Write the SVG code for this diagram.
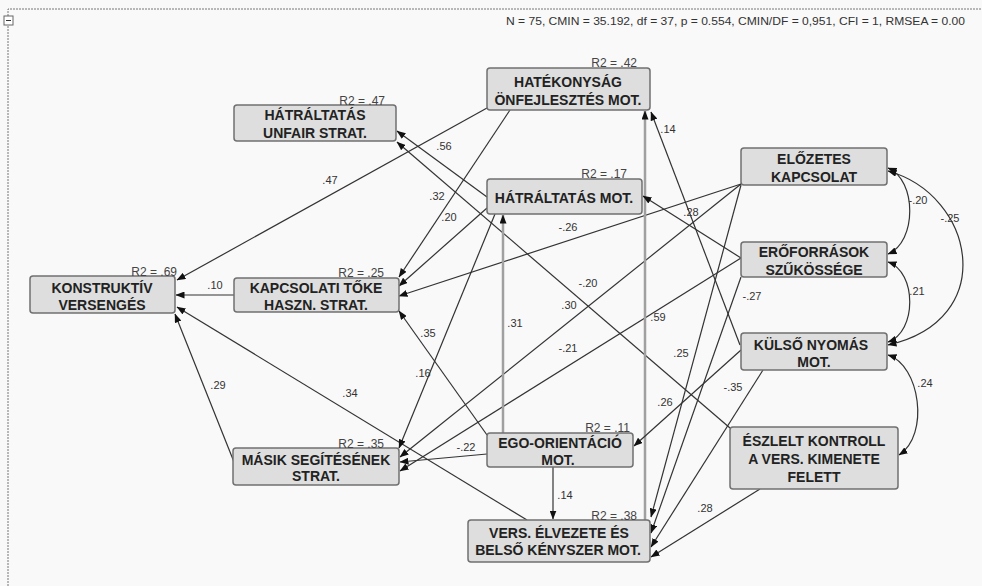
<svg xmlns="http://www.w3.org/2000/svg" width="982" height="586" viewBox="0 0 982 586">
<defs>
<marker id="ah" markerUnits="userSpaceOnUse" markerWidth="9" markerHeight="7" refX="8.5" refY="3.5" orient="auto-start-reverse">
<path d="M0,0 L9,3.5 L0,7 z" fill="#111"/>
</marker>
<style>
.bg{fill:#f9f9f9}
.frame{fill:none;stroke:#777;stroke-width:1;stroke-dasharray:2 1}
.node rect{fill:#dedede;stroke:#707070;stroke-width:1.5}
.node text{font-family:"Liberation Sans",Arial,sans-serif;font-weight:bold;font-size:14px;fill:#222;text-anchor:middle}
.r2{font-family:"Liberation Sans",Arial,sans-serif;font-size:12px;fill:#444;text-anchor:end}
.lab{font-family:"Liberation Sans",Arial,sans-serif;font-size:11px;fill:#333;text-anchor:middle}
.hdr{font-family:"Liberation Sans",Arial,sans-serif;font-size:10.5px;fill:#333}
.c line,.c path{stroke:#333;stroke-width:1.2;fill:none;marker-end:url(#ah)}
.c .g{stroke:#a0a0a0;stroke-width:2.5}
.c .cov{marker-start:url(#ah)}
</style>
</defs>
<rect class="bg" x="0" y="0" width="982" height="586"/>
<path class="frame" d="M8,586 L8,9 L982,9"/>
<rect x="4" y="16" width="9" height="9" fill="#fff" stroke="#666" stroke-width="1"/>
<line x1="6" y1="20.5" x2="11" y2="20.5" stroke="#333" stroke-width="1"/>
<text class="hdr" x="506" y="25" textLength="459" lengthAdjust="spacingAndGlyphs">N = 75, CMIN = 35.192, df = 37, p = 0.554, CMIN/DF = 0,951, CFI = 1, RMSEA = 0.00</text>

<g id="connectors" class="c">
<line x1="234" y1="295" x2="176" y2="295"/>
<line x1="487" y1="108" x2="177" y2="280"/>
<line x1="527" y1="520" x2="177" y2="307"/>
<line x1="234" y1="462" x2="175" y2="314"/>
<line x1="487" y1="197" x2="397" y2="131"/>
<line x1="730" y1="428" x2="397" y2="142"/>
<line x1="510" y1="110" x2="399" y2="277"/>
<line x1="487" y1="208" x2="399" y2="286"/>
<line x1="741" y1="184" x2="399" y2="296"/>
<line x1="487" y1="435" x2="399" y2="311"/>
<line x1="495" y1="214" x2="399" y2="448"/>
<line x1="741" y1="184" x2="400" y2="457"/>
<line x1="487" y1="454" x2="400" y2="462"/>
<line x1="741" y1="258" x2="400" y2="471"/>
<line class="g" x1="503" y1="433" x2="503" y2="215"/>
<line class="g" x1="645" y1="520" x2="645" y2="111"/>
<line x1="553" y1="467" x2="553" y2="519"/>
<line x1="740" y1="345" x2="651" y2="112"/>
<line x1="741" y1="258" x2="643" y2="196"/>
<line x1="741" y1="350" x2="634" y2="446"/>
<line x1="741" y1="185" x2="651" y2="517"/>
<line x1="741" y1="277" x2="651" y2="533"/>
<line x1="763" y1="370" x2="651" y2="547"/>
<line x1="760" y1="489" x2="651" y2="557"/>
<path class="cov" d="M888,168 C917,180 917,242 888,254"/>
<path class="cov" d="M888,171 C975,195 1000,320 888,345"/>
<path class="cov" d="M888,262 C917,272 917,332 888,342"/>
<path class="cov" d="M888,355 C920,365 930,435 899,455"/>
</g>

<g id="labels">
<text class="lab" x="330" y="184">.47</text>
<text class="lab" x="444" y="150">.56</text>
<text class="lab" x="437" y="200">.32</text>
<text class="lab" x="449" y="221">.20</text>
<text class="lab" x="568" y="231">-.26</text>
<text class="lab" x="668" y="133">.14</text>
<text class="lab" x="691" y="216">.28</text>
<text class="lab" x="918" y="204">-.20</text>
<text class="lab" x="950" y="222">-.25</text>
<text class="lab" x="917" y="295">.21</text>
<text class="lab" x="752" y="300">-.27</text>
<text class="lab" x="588" y="287">-.20</text>
<text class="lab" x="569" y="309">.30</text>
<text class="lab" x="658" y="321">.59</text>
<text class="lab" x="568" y="352">-.21</text>
<text class="lab" x="681" y="357">.25</text>
<text class="lab" x="665" y="406">.26</text>
<text class="lab" x="733" y="391">-.35</text>
<text class="lab" x="925" y="387">.24</text>
<text class="lab" x="705" y="512">.28</text>
<text class="lab" x="215" y="289">.10</text>
<text class="lab" x="218" y="389">.29</text>
<text class="lab" x="350" y="397">.34</text>
<text class="lab" x="428" y="337">.35</text>
<text class="lab" x="423" y="377">.16</text>
<text class="lab" x="515" y="327">.31</text>
<text class="lab" x="466" y="451">-.22</text>
<text class="lab" x="565" y="499">.14</text>
</g>

<g id="n-konstruktiv" class="node">
<rect x="30" y="276" width="145" height="37" rx="3"/>
<text x="102" y="293">KONSTRUKTÍV</text><text x="102" y="310">VERSENGÉS</text>
</g>
<text class="r2" x="177" y="276">R2 = .69</text>

<g id="n-unfair" class="node">
<rect x="234" y="105" width="162" height="36" rx="3"/>
<text x="315" y="120">HÁTRÁLTATÁS</text><text x="315" y="138">UNFAIR STRAT.</text>
</g>
<text class="r2" x="385" y="105">R2 = .47</text>

<g id="n-hatekonysag" class="node">
<rect x="487" y="68" width="163" height="42" rx="3"/>
<text x="568" y="87">HATÉKONYSÁG</text><text x="568" y="105">ÖNFEJLESZTÉS MOT.</text>
</g>
<text class="r2" x="637" y="67">R2 = .42</text>

<g id="n-hatraltatas-mot" class="node">
<rect x="487" y="179" width="155" height="35" rx="3"/>
<text x="564" y="203">HÁTRÁLTATÁS MOT.</text>
</g>
<text class="r2" x="627" y="178">R2 = .17</text>

<g id="n-kapcsolati" class="node">
<rect x="234" y="278" width="165" height="34" rx="3"/>
<text x="316" y="293">KAPCSOLATI TŐKE</text><text x="316" y="310">HASZN. STRAT.</text>
</g>
<text class="r2" x="384" y="277">R2 = .25</text>

<g id="n-masik" class="node">
<rect x="233" y="448" width="166" height="37" rx="3"/>
<text x="316" y="465">MÁSIK SEGÍTÉSÉNEK</text><text x="316" y="481">STRAT.</text>
</g>
<text class="r2" x="384" y="448">R2 = .35</text>

<g id="n-ego" class="node">
<rect x="487" y="433" width="146" height="34" rx="3"/>
<text x="560" y="448">EGO-ORIENTÁCIÓ</text><text x="558" y="465">MOT.</text>
</g>
<text class="r2" x="630" y="432">R2 = .11</text>

<g id="n-vers" class="node">
<rect x="468" y="520" width="182" height="42" rx="3"/>
<text x="559" y="538">VERS. ÉLVEZETE ÉS</text><text x="558" y="555">BELSŐ KÉNYSZER MOT.</text>
</g>
<text class="r2" x="637" y="520">R2 = .38</text>

<g id="n-elozetes" class="node">
<rect x="741" y="148" width="146" height="37" rx="3"/>
<text x="814" y="164">ELŐZETES</text><text x="814" y="182">KAPCSOLAT</text>
</g>

<g id="n-eroforrasok" class="node">
<rect x="741" y="242" width="146" height="35" rx="3"/>
<text x="814" y="257">ERŐFORRÁSOK</text><text x="814" y="275">SZŰKÖSSÉGE</text>
</g>

<g id="n-kulso" class="node">
<rect x="741" y="333" width="146" height="37" rx="3"/>
<text x="811" y="350">KÜLSŐ NYOMÁS</text><text x="814" y="367">MOT.</text>
</g>

<g id="n-eszlelt" class="node">
<rect x="730" y="427" width="168" height="62" rx="3"/>
<text x="814" y="446">ÉSZLELT KONTROLL</text><text x="814" y="464">A VERS. KIMENETE</text><text x="814" y="482">FELETT</text>
</g>
</svg>
